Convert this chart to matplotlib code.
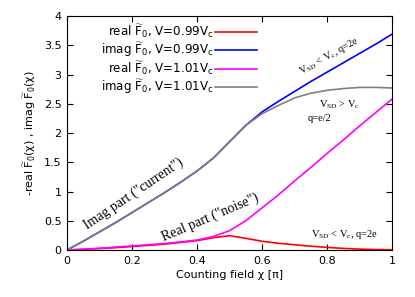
import matplotlib
matplotlib.use('Agg')
import matplotlib.pyplot as plt

chi = [0.0, 0.05, 0.1, 0.15, 0.2, 0.25, 0.3, 0.35, 0.4, 0.45, 0.5,
       0.55, 0.6, 0.65, 0.7, 0.75, 0.8, 0.85, 0.9, 0.95, 1.0]

real_099 = [0.0, 0.01, 0.025, 0.04, 0.06, 0.08, 0.1, 0.13, 0.16, 0.21, 0.245,
            0.2, 0.15, 0.115, 0.09, 0.065, 0.045, 0.028, 0.015, 0.008, 0.005]
imag_099 = [0.0, 0.15, 0.31, 0.47, 0.64, 0.81, 0.98, 1.16, 1.35, 1.57, 1.85,
            2.13, 2.36, 2.54, 2.71, 2.88, 3.04, 3.2, 3.36, 3.52, 3.69]
real_101 = [0.0, 0.015, 0.03, 0.05, 0.07, 0.09, 0.11, 0.14, 0.17, 0.23, 0.33,
            0.5, 0.72, 0.94, 1.18, 1.41, 1.65, 1.88, 2.12, 2.35, 2.58]
imag_101 = [0.0, 0.15, 0.31, 0.47, 0.64, 0.81, 0.98, 1.16, 1.35, 1.57, 1.85,
            2.13, 2.33, 2.47, 2.6, 2.68, 2.73, 2.76, 2.78, 2.78, 2.77]

labels = [r'real $\widetilde{\mathrm{F}}_0$, V=0.99V$_\mathrm{c}$',
          r'imag $\widetilde{\mathrm{F}}_0$, V=0.99V$_\mathrm{c}$',
          r'real $\widetilde{\mathrm{F}}_0$, V=1.01V$_\mathrm{c}$',
          r'imag $\widetilde{\mathrm{F}}_0$, V=1.01V$_\mathrm{c}$']

plt.rcParams['mathtext.fontset'] = 'dejavusans'
fig = plt.figure(figsize=(4.15, 2.97), dpi=100)
ax = fig.add_axes([0.1614, 0.1582, 0.7832, 0.7878])

ax.plot(chi, real_099, color='#ff0000', lw=1.2, label=labels[0])
ax.plot(chi, imag_099, color='#0000ff', lw=1.2, label=labels[1])
ax.plot(chi, real_101, color='#ff00ff', lw=1.2, label=labels[2])
ax.plot(chi, imag_101, color='#808080', lw=1.2, label=labels[3])

ax.set_xlim(0, 1)
ax.set_ylim(0, 4)
ax.set_xticks([0, 0.2, 0.4, 0.6, 0.8, 1])
ax.set_xticklabels(['0', '0.2', '0.4', '0.6', '0.8', '1'])
ax.set_yticks([0, 0.5, 1, 1.5, 2, 2.5, 3, 3.5, 4])
ax.set_yticklabels(['0', '0.5', '1', '1.5', '2', '2.5', '3', '3.5', '4'])
ax.tick_params(direction='in', top=True, right=True, length=4, labelsize=8, pad=4)
ax.set_xlabel('Counting field χ [π]', fontsize=8, labelpad=3)
ax.set_ylabel(r'-real $\widetilde{\mathrm{F}}_0$(χ) , imag $\widetilde{\mathrm{F}}_0$(χ)',
              fontsize=8, labelpad=4)

leg = ax.legend(loc='upper right', bbox_to_anchor=(0.6, 0.995), frameon=False,
                markerfirst=False, fontsize=8.6, handlelength=3.5, handletextpad=0.15,
                labelspacing=0.0, borderaxespad=0)
for t in leg.get_texts():
    t.set_ha('right')
leg._legend_box.align = 'right'

serif = 'Liberation Serif'
ax.text(0.206, 0.97, 'Imag part ("current")', family=serif, fontsize=10,
        rotation=34, ha='center', va='center', rotation_mode='anchor')
ax.text(0.44, 0.55, 'Real part ("noise")', family=serif, fontsize=10,
        rotation=23, ha='center', va='center', rotation_mode='anchor')
ax.text(0.806, 3.32, r'V$_\mathregular{SD}$ < V$_\mathregular{c}$, q=2e', family=serif,
        fontsize=7.5, rotation=29, ha='center', va='center', rotation_mode='anchor')
ax.text(0.837, 2.48, r'V$_\mathregular{SD}$ > V$_\mathregular{c}$', family=serif,
        fontsize=7.5, ha='center', va='center')
ax.text(0.778, 2.24, 'q=e/2', family=serif, fontsize=7.5, ha='center', va='center')
ax.text(0.855, 0.27, r'V$_\mathregular{SD}$ < V$_\mathregular{c}$, q=2e', family=serif,
        fontsize=7.5, ha='center', va='center')

fig.savefig('out.png', dpi=100)
